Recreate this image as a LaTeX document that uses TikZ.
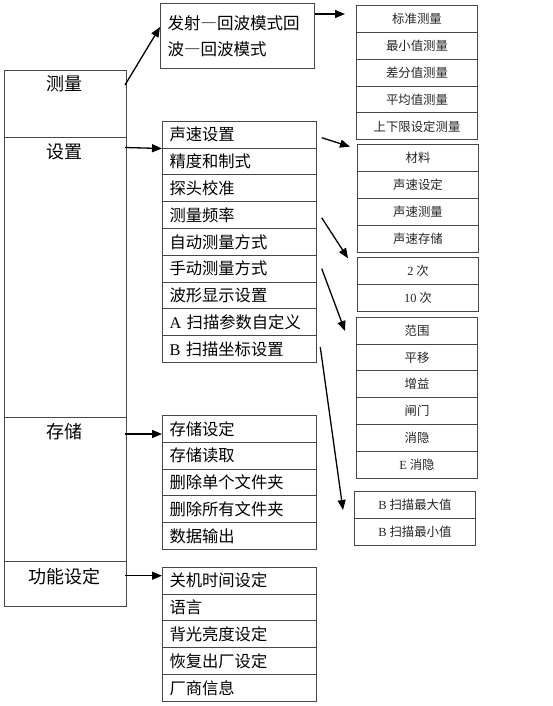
\documentclass[tikz,border=0pt]{standalone}
\usepackage{fontspec}
\setmainfont{Liberation Serif}
\newfontfamily\cjk{Noto Sans CJK SC}
\newfontfamily\latin{Liberation Serif}
\usetikzlibrary{arrows.meta,calc}
\newcommand\lat[1]{{\latin #1}}
\newcommand\fwdash{{\addfontfeatures{RawFeature=+fwid}—}}
\begin{document}
\begin{tikzpicture}[x=1pt,y=-1pt,
  box/.style={draw=black!72, line width=1pt, rectangle, inner sep=0pt},
  sec/.style={box, minimum width=122pt, anchor=north west},
  lbl/.style={font=\cjk\fontsize{18}{20}\selectfont, inner sep=0pt},
  rowm/.style={box, anchor=north west, minimum width=154pt, minimum height=26.8pt, text width=140pt, inner xsep=7pt, align=left, font=\cjk\fontsize{16.3}{18}\selectfont},
  rowr/.style={box, anchor=north west, minimum width=121pt, minimum height=26.8pt, align=center, font=\cjk\fontsize{12.4}{14}\selectfont, text=black!85},
  arr/.style={line width=1.3pt, -{Triangle[length=10pt,width=8pt]}}
]
\fill[white] (0,0) rectangle (552,706);
\useasboundingbox (0,0) rectangle (552,706);

% left column
\node[sec, minimum height=67pt] (m) at (3.5,70) {};
\node[sec, minimum height=280pt] (s) at (3.5,137) {};
\node[sec, minimum height=144pt] (c) at (3.5,417) {};
\node[sec, minimum height=45pt] (f) at (3.5,561) {};
\node[lbl] (mt) at (64,84) {测量};
\node[lbl] (st) at (64,151.5) {设置};
\node[lbl] (ct) at (64,431.5) {存储};
\node[lbl] (ft) at (64,576.5) {功能设定};

% top box
\node[box, anchor=north west, minimum width=154pt, minimum height=65pt, text width=140pt, inner xsep=7pt, align=left, font=\cjk\fontsize{16.5}{26}\selectfont] (t) at (160,3) {发射\fwdash 回波模式回\\波\fwdash 回波模式};

% settings list
\foreach \txt [count=\i] in {声速设置,精度和制式,探头校准,测量频率,自动测量方式,手动测量方式,波形显示设置,{\lat{A} 扫描参数自定义},{\lat{B} 扫描坐标设置}}
  \node[rowm] (s\i) at (162,{120.7+26.8*(\i-1)}) {\txt};

% storage list
\foreach \txt [count=\i] in {存储设定,存储读取,删除单个文件夹,删除所有文件夹,数据输出}
  \node[rowm] (c\i) at (162,{415+26.8*(\i-1)}) {\txt};

% function list
\foreach \txt [count=\i] in {关机时间设定,语言,背光亮度设定,恢复出厂设定,厂商信息}
  \node[rowm] (f\i) at (162,{566.7+26.8*(\i-1)}) {\txt};

% right groups
\foreach \txt [count=\i] in {标准测量,最小值测量,差分值测量,平均值测量,上下限设定测量}
  \node[rowr] (ga\i) at (356,{5+26.86*(\i-1)}) {\txt};
\foreach \txt [count=\i] in {材料,声速设定,声速测量,声速存储}
  \node[rowr] (gb\i) at (357,{144.3+27*(\i-1)}) {\txt};
\foreach \txt [count=\i] in {{\lat{2} 次},{\lat{10} 次}}
  \node[rowr] (gc\i) at (357,{256.7+27*(\i-1)}) {\txt};
\foreach \txt [count=\i] in {范围,平移,增益,闸门,消隐,{\lat{E} 消隐}}
  \node[rowr] (gd\i) at (356,{316.7+26.8*(\i-1)}) {\txt};
\foreach \txt [count=\i] in {{\lat{B} 扫描最大值},{\lat{B} 扫描最小值}}
  \node[rowr] (ge\i) at (354,{491.3+27*(\i-1)}) {\txt};

% arrows
\draw[arr] ($(m.north east)+(-1.5,15)$) -- ($(t.north west)+(0,24)$);
\draw[arr] ($(t.north east)+(0,11)$) -- ($(ga1.north west)+(-11,9)$);
\draw[arr] ($(s.north east)+(-1.5,10.5)$) -- (s1.south west);
\draw[arr] ($(c.north east)+(-1.5,17)$) -- ($(c1.north west)+(0,19)$);
\draw[arr] ($(f.north east)+(-1.5,14.7)$) -- ($(f1.north west)+(0,9)$);
\draw[arr] ($(s1.south east)+(4.7,-10.8)$) -- ($(gb1.north west)+(-7,2.4)$);
\draw[arr] ($(s4.east)+(4.7,2.8)$) -- ($(gc1.north west)+(-9,1.6)$);
\draw[arr] ($(s6.east)+(4.7,0)$) -- ($(gd1.north west)+(-11,14.3)$);
\draw[arr] ($(s9.east)+(3.3,-1.8)$) -- ($(ge1.north west)+(-11,18.7)$);
\end{tikzpicture}
\end{document}
